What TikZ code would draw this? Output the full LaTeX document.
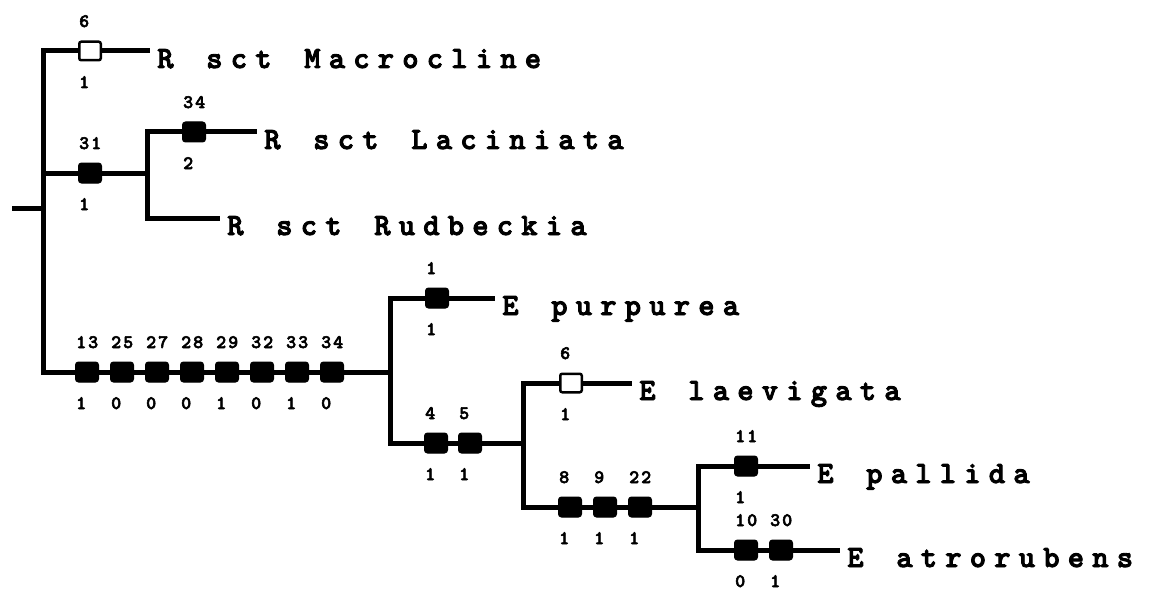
\documentclass[tikz,border=0pt]{standalone}
\usepackage{fontspec}
\newfontfamily\treefont{lmmonolt10-bold}[Extension=.otf, FakeBold=3]

% Set a string in fixed-width cells (use ~ for a blank cell).
\newlength\cellwd
\newcommand\spaced[2]{\setlength\cellwd{#1}\spacedstep#2\relax}
\def\spacedstep#1{\ifx#1\relax\else\makebox[\cellwd][c]{#1}\expandafter\spacedstep\fi}

\tikzset{
  branch/.style={line width=5pt, line join=miter},
  fullbox/.style={draw=black, fill=black, line width=1pt, rounded corners=3pt,
    minimum width=23pt, minimum height=20pt, inner sep=0pt},
  openbox/.style={draw=black, fill=white, line width=2.5pt, rounded corners=2pt,
    minimum width=21.5pt, minimum height=18.5pt, inner sep=0pt},
  digit/.style={inner sep=0pt, font=\treefont\fontsize{19}{19}\selectfont},
  leaf/.style={anchor=west, inner xsep=3pt, inner ysep=0pt, text height=34pt,
    text depth=0pt, font=\treefont\fontsize{31}{31}\selectfont},
}

% A character change on a branch: style, name, x, y, character, state
\newcommand\charstate[6]{%
  \node[#1] (#2) at (#3,#4) {};
  \node[digit, anchor=base west] (#2top) at ([yshift=24pt]#2.west) {\spaced{12pt}{#5}};
  \node[digit, anchor=base west] (#2bot) at ([yshift=-37pt]#2.west) {\spaced{12pt}{#6}};
}

\begin{document}
\begin{tikzpicture}[x=1pt, y=-1pt]
\useasboundingbox (0,0) rectangle (1151,591);

% junctions
\coordinate (r0) at (12,208);
\coordinate (j1) at (43,208);
\coordinate (j2) at (147,173);
\coordinate (j3) at (390,372);
\coordinate (j4) at (523,443);
\coordinate (j5) at (698,507);

% terminal taxa
\node[leaf] (tMacro) at (150,51)  {\spaced{24.5pt}{R~sct~Macrocline}};
\node[leaf] (tLac)   at (257,132) {\spaced{24.5pt}{R~sct~Laciniata}};
\node[leaf] (tRud)   at (220,218) {\spaced{24.5pt}{R~sct~Rudbeckia}};
\node[leaf] (tPurp)  at (495,298) {\spaced{24.5pt}{E~purpurea}};
\node[leaf] (tLaev)  at (632,383) {\spaced{24.5pt}{E~laevigata}};
\node[leaf] (tPall)  at (810,466) {\spaced{24.5pt}{E~pallida}};
\node[leaf] (tAtro)  at (840,550) {\spaced{24.5pt}{E~atrorubens}};

% branches
\draw[branch] (r0) -- (j1);
\draw[branch] (j1) |- (tMacro.west);
\draw[branch] (j1) |- (j2);
\draw[branch] (j1) |- (j3);
\draw[branch] (j2) |- (tLac.west);
\draw[branch] (j2) |- (tRud.west);
\draw[branch] (j3) |- (tPurp.west);
\draw[branch] (j3) |- (j4);
\draw[branch] (j4) |- (tLaev.west);
\draw[branch] (j4) |- (j5);
\draw[branch] (j5) |- (tPall.west);
\draw[branch] (j5) |- (tAtro.west);

% character changes
\charstate{openbox}{c6a}{90}{51}{6}{1}
\charstate{fullbox}{c31}{90}{173}{31}{1}
\charstate{fullbox}{c34a}{194}{132}{34}{2}

\charstate{fullbox}{c13}{87}{372}{13}{1}
\charstate{fullbox}{c25}{122}{372}{25}{0}
\charstate{fullbox}{c27}{157}{372}{27}{0}
\charstate{fullbox}{c28}{192}{372}{28}{0}
\charstate{fullbox}{c29}{227}{372}{29}{1}
\charstate{fullbox}{c32}{262}{372}{32}{0}
\charstate{fullbox}{c33}{297}{372}{33}{1}
\charstate{fullbox}{c34b}{332}{372}{34}{0}

\charstate{fullbox}{c1}{437}{298}{1}{1}
\charstate{fullbox}{c4}{436}{443}{4}{1}
\charstate{fullbox}{c5}{470}{443}{5}{1}

\charstate{openbox}{c6b}{571}{383}{6}{1}
\charstate{fullbox}{c8}{570}{507}{8}{1}
\charstate{fullbox}{c9}{605}{507}{9}{1}
\charstate{fullbox}{c22}{640}{507}{22}{1}

\charstate{fullbox}{c11}{746}{466}{11}{1}
\charstate{fullbox}{c10}{746}{550}{10}{0}
\charstate{fullbox}{c30}{781}{550}{30}{1}
\end{tikzpicture}
\end{document}
